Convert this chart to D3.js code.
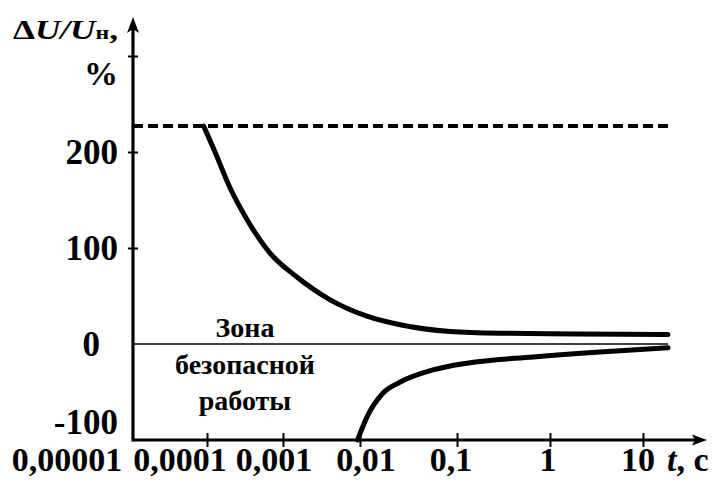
<!DOCTYPE html>
<html>
<head>
<meta charset="utf-8">
<script src="https://cdn.jsdelivr.net/npm/d3@7"></script>
<style>
  body { margin: 0; background: #fff; }
  text { font-family: "Liberation Serif", "Times New Roman", serif; font-weight: bold; fill: #000; }
</style>
</head>
<body>
<svg id="chart" width="722" height="483"></svg>
<script>
// Time axis (seconds), logarithmic decades
const timeTicks = [1e-5, 1e-4, 1e-3, 1e-2, 0.1, 1, 10];
const timeLabels = ["0,00001", "0,0001", "0,001", "0,01", "0,1", "1", "10"];

// Voltage deviation axis, %
const voltTicks = [-100, 0, 100, 200, 300];
const voltLabels = ["-100", "0", "100", "200", ""];

// Maximum permissible overvoltage level, %
const overvoltLimit = 227;

// Upper boundary of the safe operating zone (overvoltage)
const upperT = [9e-5, 1.2e-4, 2e-4, 3.4e-4, 6.7e-4, 1.5e-3, 4.1e-3, 0.0118, 0.026, 0.085, 0.29, 2, 18.6];
const upperV = [227, 205, 163, 129, 95, 70, 46, 29, 20, 13, 11.2, 10.5, 10];

// Lower boundary of the safe operating zone (voltage dip)
const lowerT = [0.0093, 0.0105, 0.0118, 0.0173, 0.026, 0.0566, 0.128, 0.66, 3.45, 18.6];
const lowerV = [-100, -88, -76, -51, -39.6, -27, -20, -13.5, -8.3, -4];

// Zone caption
const zoneLines = ["Зона", "безопасной", "работы"];

// ---- layout ----
const svg = d3.select("#chart");
const decadeX = [133, 207, 283, 360, 457, 550, 643];   // screen x of each decade
const x = d3.scaleLog().domain(timeTicks).range(decadeX);
const y = d3.scaleLinear().domain([-100, 300]).range([440, 56]);
const x0 = x(timeTicks[0]);
const xEnd = 707;      // arrow tip of time axis
const yTop = 17;       // arrow tip of voltage axis
const curveEnd = 18.6; // right end of the horizontal lines

// label nudges so the crowded decade labels do not overlap
const labelShift = [-66, -27, -9, 6, -6, -2, -5];

const g = svg.append("g");

// dashed overvoltage limit
g.append("line")
  .attr("x1", x0).attr("x2", x(curveEnd) + 2)
  .attr("y1", y(overvoltLimit)).attr("y2", y(overvoltLimit))
  .attr("stroke", "#000").attr("stroke-width", 4)
  .attr("stroke-dasharray", "10,5");

// zero reference line
g.append("line")
  .attr("x1", x0).attr("x2", x(curveEnd))
  .attr("y1", y(0)).attr("y2", y(0))
  .attr("stroke", "#000").attr("stroke-width", 1.6);

// x axis with crossing ticks
const xAxis = d3.axisBottom(x).tickValues(timeTicks.slice(1)).tickSize(7).tickFormat("");
const xg = g.append("g").attr("transform", `translate(0,${y(-100)})`).call(xAxis);
xg.select(".domain").remove();
xg.selectAll(".tick line").attr("y1", -7).attr("y2", 7).attr("stroke", "#000").attr("stroke-width", 2);

// y axis with crossing ticks
const yAxis = d3.axisLeft(y).tickValues([100, 200, 300]).tickSize(5).tickFormat("");
const yg = g.append("g").attr("transform", `translate(${x0},0)`).call(yAxis);
yg.select(".domain").remove();
yg.selectAll(".tick line").attr("x1", -5).attr("x2", 5).attr("stroke", "#000").attr("stroke-width", 2);

// axis lines
g.append("line").attr("x1", x0).attr("x2", xEnd - 8).attr("y1", y(-100)).attr("y2", y(-100))
  .attr("stroke", "#000").attr("stroke-width", 3.2);
g.append("line").attr("x1", x0).attr("x2", x0).attr("y1", y(-100) + 1.5).attr("y2", yTop + 8)
  .attr("stroke", "#000").attr("stroke-width", 3.2);

// arrow heads
g.append("path")
  .attr("d", `M${xEnd},${y(-100)} L${xEnd - 15},${y(-100) - 5.5} L${xEnd - 12},${y(-100)} L${xEnd - 15},${y(-100) + 5.5} Z`)
  .attr("fill", "#000");
g.append("path")
  .attr("d", `M${x0},${yTop} L${x0 - 6},${yTop + 16} L${x0},${yTop + 12} L${x0 + 6},${yTop + 16} Z`)
  .attr("fill", "#000");

// boundary curves
const line = d3.line()
  .x(d => x(d[0]))
  .y(d => y(d[1]))
  .curve(d3.curveMonotoneX);

g.append("path")
  .datum(upperT.map((t, i) => [t, upperV[i]]))
  .attr("d", line)
  .attr("fill", "none").attr("stroke", "#000").attr("stroke-width", 5).attr("stroke-linecap", "round");

g.append("path")
  .datum(lowerT.map((t, i) => [t, lowerV[i]]))
  .attr("d", line)
  .attr("fill", "none").attr("stroke", "#000").attr("stroke-width", 5).attr("stroke-linecap", "round");

// x tick labels
g.selectAll(".xlab")
  .data(timeTicks)
  .join("text")
  .attr("class", "xlab")
  .attr("x", (d, i) => x(d) + labelShift[i])
  .attr("y", 471)
  .attr("text-anchor", "middle")
  .style("font-size", "34px")
  .text((d, i) => timeLabels[i]);

// time axis title
const tt = g.append("text").attr("x", 667).attr("y", 471).style("font-size", "34px");
tt.append("tspan").style("font-style", "italic").text("t");
tt.append("tspan").text(", с");

// y tick labels
g.selectAll(".ylab")
  .data(voltTicks.filter((d, i) => voltLabels[i] !== ""))
  .join("text")
  .attr("class", "ylab")
  .attr("x", d => d === 0 ? x0 - 33 : x0 - 15)
  .attr("y", d => d === -100 ? y(-100) - 18 : y(d))
  .attr("dy", "0.35em")
  .attr("text-anchor", "end")
  .style("font-size", "35px")
  .text(d => voltLabels[voltTicks.indexOf(d)]);

// y axis title: ΔU/Uн, %
const yt = g.append("text").attr("transform", "translate(13,39)").style("font-size", "28px");
yt.append("tspan").text("Δ");
yt.append("tspan").style("font-style", "italic").text("U/U");
yt.append("tspan").style("font-size", "19px").text("н");
yt.append("tspan").text(",");
const w = yt.node().getComputedTextLength();
yt.attr("transform", `translate(13,39) scale(${105 / w},1)`);

g.append("text").attr("x", x0 - 15).attr("y", 85).attr("text-anchor", "end")
  .style("font-size", "34px").text("%");

// zone caption
g.selectAll(".zone")
  .data(zoneLines)
  .join("text")
  .attr("class", "zone")
  .attr("x", 245)
  .attr("y", (d, i) => 337 + i * 36.5)
  .attr("text-anchor", "middle")
  .style("font-size", "28px")
  .text(d => d);
</script>
</body>
</html>
